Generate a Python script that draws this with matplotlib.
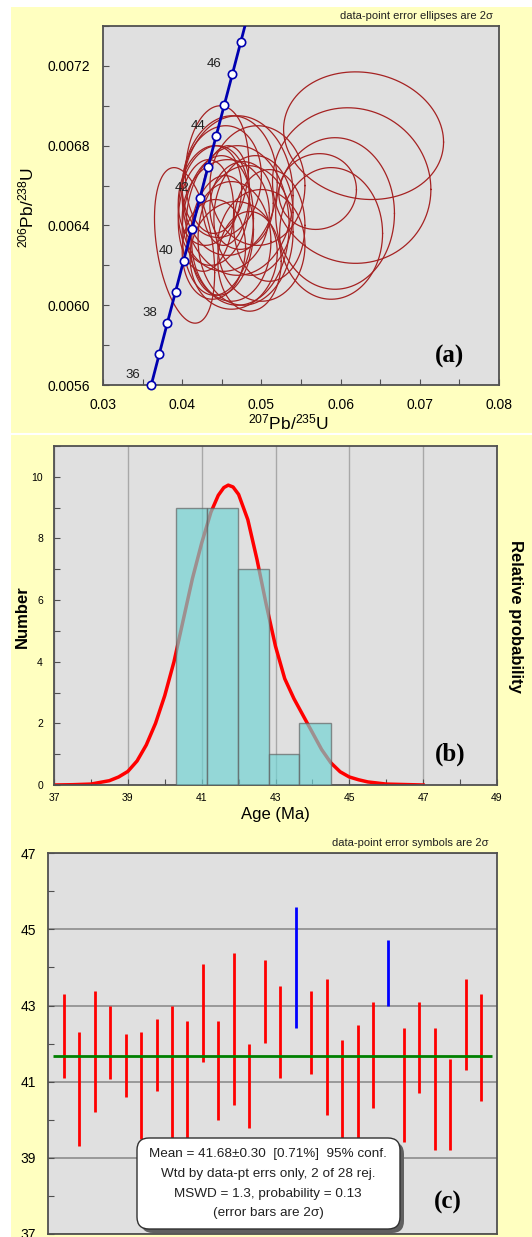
import numpy as np
import matplotlib
matplotlib.use("Agg")
import matplotlib.pyplot as plt
from matplotlib.patches import Rectangle, FancyBboxPatch
from matplotlib.lines import Line2D
from matplotlib.transforms import IdentityTransform
from matplotlib.ticker import MultipleLocator

plt.rcParams['font.family'] = ['Liberation Sans', 'DejaVu Sans']
plt.rcParams['mathtext.fontset'] = 'custom'
plt.rcParams['mathtext.rm'] = 'Liberation Sans'
plt.rcParams['mathtext.default'] = 'regular'

# ---- panel (a): concordia markers (age in Ma, 207/235, 206/238)
conc_age = [36, 37, 38, 39, 40, 41, 42, 43, 44, 45, 46, 47, 48]
conc_x = [0.03609, 0.03711, 0.03813, 0.03916, 0.04018, 0.04121, 0.04223,
          0.04326, 0.04429, 0.04532, 0.04635, 0.04738, 0.04841]
conc_y = [0.005600, 0.005756, 0.005912, 0.006068, 0.006224, 0.006380, 0.006537,
          0.006693, 0.006849, 0.007005, 0.007161, 0.007318, 0.007474]
conc_labels = [36, 38, 40, 42, 44, 46]

# error ellipses: centre x, centre y, 2s half-width x, 2s half-height y, rho
ell_cx = [0.0629, 0.0614, 0.0593, 0.0571, 0.0588, 0.0403, 0.0444, 0.0460,
          0.0470, 0.0440, 0.0435, 0.0455, 0.0445, 0.0470, 0.0480, 0.0450,
          0.0462, 0.0490, 0.0500, 0.0430, 0.0475, 0.0455, 0.0440, 0.0510,
          0.0495, 0.0465, 0.0450, 0.0485]
ell_cy = [0.00685, 0.00660, 0.00646, 0.00657, 0.00636, 0.00630, 0.00668, 0.00660,
          0.00655, 0.00650, 0.00655, 0.00645, 0.00640, 0.00640, 0.00635, 0.00635,
          0.00632, 0.00645, 0.00630, 0.00645, 0.00650, 0.00655, 0.00628, 0.00640,
          0.00660, 0.00625, 0.00662, 0.00622]
ell_sx = [0.0101, 0.0100, 0.0075, 0.0049, 0.0065, 0.0038, 0.0040, 0.0060,
          0.0070, 0.0045, 0.0040, 0.0055, 0.0045, 0.0065, 0.0060, 0.0040,
          0.0050, 0.0050, 0.0055, 0.0035, 0.0040, 0.0030, 0.0040, 0.0045,
          0.0060, 0.0055, 0.0050, 0.0040]
ell_sy = [0.00032, 0.00039, 0.00038, 0.00019, 0.00033, 0.00039, 0.00032, 0.00035,
          0.00040, 0.00030, 0.00025, 0.00028, 0.00035, 0.00040, 0.00035, 0.00030,
          0.00030, 0.00030, 0.00028, 0.00028, 0.00022, 0.00025, 0.00025, 0.00028,
          0.00030, 0.00027, 0.00028, 0.00025]
ell_rho = [-0.1, -0.05, 0.0, 0.05, 0.0, -0.35, 0.1, 0.05,
           0.0, 0.1, 0.15, 0.05, 0.1, 0.0, 0.05, 0.1,
           0.0, 0.05, 0.0, 0.1, 0.05, 0.1, 0.05, 0.0,
           0.0, 0.05, 0.1, 0.0]

# ---- panel (b): histogram and relative probability curve
bin_edges = [40.31, 41.15, 41.98, 42.82, 43.65, 44.49]
prob_age = [37.0, 37.5, 38.0, 38.5, 38.75, 39.0, 39.25, 39.5, 39.75, 40.0, 40.25,
            40.5, 40.75, 41.0, 41.25, 41.45, 41.6, 41.72, 41.85, 42.0, 42.25,
            42.5, 42.75, 43.0, 43.25, 43.5, 43.75, 44.0, 44.25, 44.5, 44.75,
            45.0, 45.25, 45.5, 46.0, 47.0]
prob_val = [0.0, 0.01, 0.03, 0.14, 0.26, 0.44, 0.78, 1.30, 2.00, 2.90, 4.00,
            5.35, 6.70, 7.85, 8.85, 9.40, 9.65, 9.73, 9.67, 9.43, 8.61,
            7.31, 5.85, 4.50, 3.45, 2.80, 2.25, 1.70, 1.15, 0.72, 0.43,
            0.26, 0.17, 0.10, 0.03, 0.0]

# ---- panel (c): ages and 2-sigma errors
ages = [42.20, 40.80, 41.79, 42.04, 41.42, 40.90, 41.70, 41.20, 41.00, 42.80,
        41.29, 42.39, 40.89, 43.10, 42.30, 44.00, 42.29, 41.90, 40.80, 41.00,
        41.70, 43.85, 40.90, 41.90, 40.80, 40.40, 42.50, 41.90]
err2s = [1.10, 1.50, 1.60, 0.96, 0.82, 1.40, 0.95, 1.79, 1.59, 1.29,
         1.30, 2.00, 1.10, 1.09, 1.20, 1.60, 1.10, 1.79, 1.29, 1.49,
         1.40, 0.86, 1.50, 1.20, 1.60, 1.20, 1.20, 1.40]
rejected = [16, 22]
wmean = 41.68

YELLOW = '#FFFFC0'
PLOTBG = '#E0E0E0'
SPINE = '#505050'

W, H = 532, 1237
fig = plt.figure(figsize=(W / 100, H / 100), dpi=100)
fig.patch.set_facecolor('white')
fig.add_artist(Rectangle((11 / W, 0), 1 - 11 / W, 1 - 7 / H, transform=fig.transFigure,
                         facecolor=YELLOW, edgecolor='none', zorder=-10))
fig.add_artist(Line2D([11 / W, 1], [1 - 434 / H] * 2, transform=fig.transFigure,
                      color='white', lw=1.5))


def px_axes(l, t, r, b):
    return fig.add_axes([l / W, 1 - b / H, (r - l) / W, (b - t) / H])


def style(ax):
    ax.set_facecolor(PLOTBG)
    for s in ax.spines.values():
        s.set_color(SPINE)
        s.set_linewidth(1.3)
    ax.tick_params(which='both', direction='in', color=SPINE, length=4, width=0.8)


# ---------------- (a)
ax1 = px_axes(103, 26, 499, 385)
style(ax1)
t = np.linspace(0, 2 * np.pi, 240)
for cx, cy, sx, sy, r in zip(ell_cx, ell_cy, ell_sx, ell_sy, ell_rho):
    ex = cx + sx * np.cos(t)
    ey = cy + sy * (r * np.cos(t) + np.sqrt(1 - r * r) * np.sin(t))
    ax1.plot(ex, ey, color='#A52222', lw=0.9, zorder=2)
ax1.plot(conc_x, conc_y, color='#0000B0', lw=2, zorder=3)
mx = [x for a, x in zip(conc_age, conc_x) if a <= 47]
my = [y for a, y in zip(conc_age, conc_y) if a <= 47]
ax1.plot(mx, my, 'o', ms=6, mfc='white', mec='#0000B0', mew=1.2, zorder=4, clip_on=False)
for a, x, y in zip(conc_age, conc_x, conc_y):
    if a in conc_labels:
        ax1.annotate(str(a), (x, y), xytext=(-18, 10), textcoords='offset pixels',
                     ha='center', va='center', fontsize=9.5, color='#202020')
ax1.set_xlim(0.03, 0.08)
ax1.set_ylim(0.0056, 0.0074)
ax1.set_xticks([0.03, 0.04, 0.05, 0.06, 0.07, 0.08])
ax1.set_xticklabels(['0.03', '0.04', '0.05', '0.06', '0.07', '0.08'])
ax1.set_yticks([0.0056, 0.0060, 0.0064, 0.0068, 0.0072])
ax1.set_yticklabels(['0.0056', '0.0060', '0.0064', '0.0068', '0.0072'])
ax1.xaxis.set_minor_locator(MultipleLocator(0.005))
ax1.yaxis.set_minor_locator(MultipleLocator(0.0002))
ax1.tick_params(axis='both', labelsize=10, pad=9)
fig.text(493 / W, 1 - 16 / H, 'data-point error ellipses are 2σ', ha='right', va='center',
         fontsize=8, color='#202020')
fig.text(289 / W, 1 - 422 / H, r'$^{207}$Pb/$^{235}$U', ha='center', va='center', fontsize=12.5)
fig.text(26 / W, 1 - 207 / H, r'$^{206}$Pb/$^{238}$U', ha='center', va='center', fontsize=12.5,
         rotation=90)
fig.text(449 / W, 1 - 356 / H, '(a)', ha='center', va='center', fontsize=18,
         fontweight='bold', family='Liberation Serif')

# ---------------- (b)
ax2 = px_axes(54, 446, 497, 785)
style(ax2)
ax2.grid(axis='x', which='major', color='#A8A8A8', lw=1)
ax2.set_axisbelow(True)
ax2.plot(prob_age, prob_val, color='#FF0000', lw=2.5, zorder=2, solid_joinstyle='round')
ax2.hist(ages, bins=bin_edges, color='#70D4D4', alpha=0.68, edgecolor='#606060',
         linewidth=1, zorder=3)
ax2.set_xlim(37, 49)
ax2.set_ylim(0, 11)
ax2.set_xticks(range(37, 50, 2))
ax2.set_yticks(range(0, 11, 2))
ax2.xaxis.set_minor_locator(MultipleLocator(1))
ax2.yaxis.set_minor_locator(MultipleLocator(1))
ax2.tick_params(axis='both', labelsize=7.5)
ax2.tick_params(axis='x', pad=6)
ax2.tick_params(axis='y', pad=8)
fig.text(22 / W, 1 - 617 / H, 'Number', ha='center', va='center', fontsize=12,
         fontweight='bold', rotation=90)
fig.text(516 / W, 1 - 616 / H, 'Relative probability', ha='center', va='center', fontsize=12,
         fontweight='bold', rotation=-90)
fig.text(275 / W, 1 - 815 / H, 'Age (Ma)', ha='center', va='center', fontsize=12)
fig.text(450 / W, 1 - 754 / H, '(b)', ha='center', va='center', fontsize=18,
         fontweight='bold', family='Liberation Serif')

# ---------------- (c)
ax3 = px_axes(48.3, 853.3, 496.7, 1233.8)
style(ax3)
ax3.grid(axis='y', which='major', color='#8C8C8C', lw=1.2)
ax3.set_axisbelow(True)
idx = np.arange(1, len(ages) + 1)
cols = ['#0000FF' if i in rejected else '#FF0000' for i in idx]
lo = np.array(ages) - np.array(err2s)
hi = np.array(ages) + np.array(err2s)
ax3.vlines(idx, lo, hi, colors=cols, lw=2, zorder=3)
ax3.hlines(wmean, 0.3, 28.7, color='#008000', lw=2, zorder=4)
ax3.set_xlim(0, 29)
ax3.set_ylim(37, 47)
ax3.set_xticks([])
ax3.set_yticks(range(37, 48, 2))
ax3.yaxis.set_minor_locator(MultipleLocator(1))
ax3.tick_params(axis='y', labelsize=10, pad=9)
fig.text(488 / W, 1 - 843 / H, 'data-point error symbols are 2σ', ha='right', va='center',
         fontsize=8, color='#202020')

# result box with shadow (pixel coordinates)
bx0, by0, bx1, by1 = 137, H - 1229, 400, H - 1138
fig.add_artist(FancyBboxPatch((bx0 + 4, by0 - 4), bx1 - bx0, by1 - by0,
                              boxstyle='round,pad=0,rounding_size=12', transform=IdentityTransform(),
                              facecolor='#606060', edgecolor='none', zorder=5))
fig.add_artist(FancyBboxPatch((bx0, by0), bx1 - bx0, by1 - by0,
                              boxstyle='round,pad=0,rounding_size=12', transform=IdentityTransform(),
                              facecolor='white', edgecolor='#303030', lw=1, zorder=6))
box_lines = ['Mean = 41.68±0.30  [0.71%]  95% conf.',
             'Wtd by data-pt errs only, 2 of 28 rej.',
             'MSWD = 1.3, probability = 0.13',
             '(error bars are 2σ)']
for s, yy in zip(box_lines, [1154.3, 1174.3, 1194, 1213.3]):
    fig.text(268 / W, 1 - yy / H, s, ha='center', va='center', fontsize=9.7,
             color='#202020', zorder=7)
fig.text(448 / W, 1 - 1202 / H, '(c)', ha='center', va='center', fontsize=18,
         fontweight='bold', family='Liberation Serif')

fig.savefig('out.png', dpi=100)
